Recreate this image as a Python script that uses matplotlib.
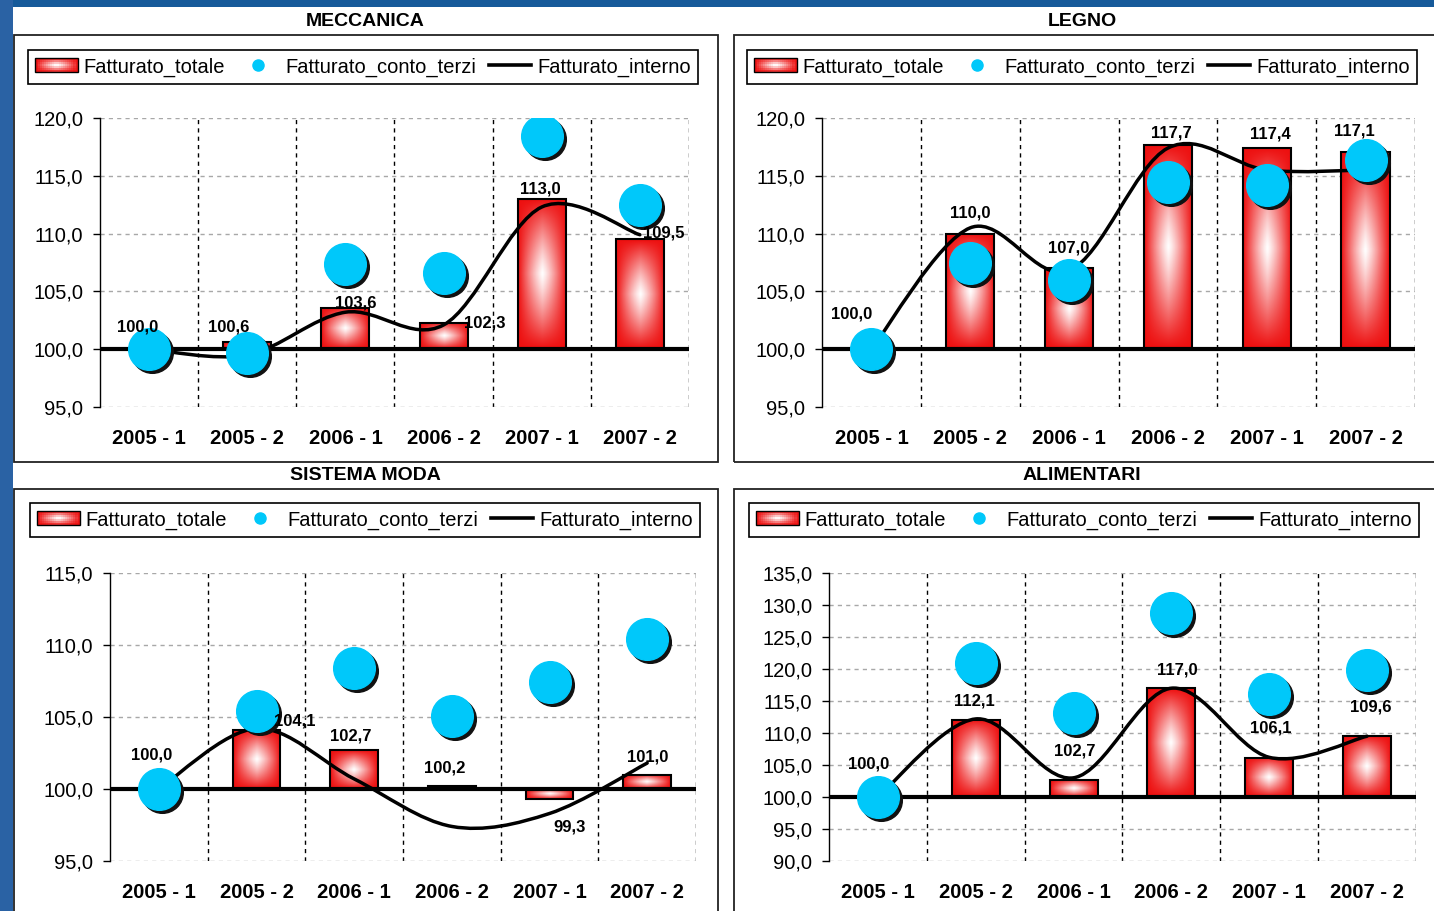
import matplotlib
matplotlib.use('Agg')
import matplotlib.pyplot as plt
import matplotlib.transforms as mtransforms
from matplotlib.patches import Rectangle, PathPatch
from matplotlib.path import Path
from matplotlib.lines import Line2D
from matplotlib.legend_handler import HandlerBase
import numpy as np

plt.rcParams['font.family'] = ['Liberation Sans', 'DejaVu Sans']

# --- data ---
periods = ['2005 - 1', '2005 - 2', '2006 - 1', '2006 - 2', '2007 - 1', '2007 - 2']
series_names = ['Fatturato_totale', 'Fatturato_conto_terzi', 'Fatturato_interno']

meccanica_totale = [100.0, 100.6, 103.6, 102.3, 113.0, 109.5]
meccanica_terzi = [100.0, 99.7, 107.4, 106.6, 118.4, 112.5]
meccanica_interno = [100.0, 99.5, 103.2, 102.1, 112.3, 109.9]

legno_totale = [100.0, 110.0, 107.0, 117.7, 117.4, 117.1]
legno_terzi = [100.0, 107.5, 106.0, 114.5, 114.2, 116.4]
legno_interno = [100.0, 110.5, 106.8, 117.4, 115.5, 115.5]

moda_totale = [100.0, 104.1, 102.7, 100.2, 99.3, 101.0]
moda_terzi = [100.0, 105.4, 108.4, 105.1, 107.4, 110.4]
moda_interno = [100.0, 104.2, 100.7, 97.4, 98.3, 101.8]

alimentari_totale = [100.0, 112.1, 102.7, 117.0, 106.1, 109.6]
alimentari_terzi = [100.0, 121.0, 113.1, 128.8, 116.1, 119.8]
alimentari_interno = [100.0, 112.2, 103.0, 117.0, 106.2, 109.5]

W, H = 1434, 911
RED = np.array([0.93, 0.06, 0.06])
CYAN = '#00c8fa'


def shade(u, v):
    # "from center" fill: white in the middle, red towards every edge
    return 1 - (1 - np.abs(u) ** 1.2) * (1 - np.abs(v) ** 1.2)


def mix(t):
    return tuple(np.array([1.0, 1.0, 1.0]) * (1 - t) + RED * t)


def gradient_img(n=80):
    u = np.linspace(-1, 1, n)
    U, V = np.meshgrid(u, u)
    t = shade(U, V)
    return np.ones((n, n, 3)) * (1 - t[..., None]) + RED * t[..., None]


class GradientBoxHandler(HandlerBase):
    def create_artists(self, legend, orig_handle, xdescent, ydescent,
                       width, height, fontsize, trans):
        arts = []
        nx, ny = 20, 7
        x0, y0 = -xdescent, -ydescent
        cw, ch = width / nx, height / ny
        for i in range(nx):
            for j in range(ny):
                u = (i + 0.5) / nx * 2 - 1
                v = (j + 0.5) / ny * 2 - 1
                arts.append(Rectangle((x0 + i * cw, y0 + j * ch), cw * 1.05, ch * 1.05,
                                      facecolor=mix(shade(u, v)), edgecolor='none',
                                      transform=trans))
        arts.append(Rectangle((x0, y0), width, height, facecolor='none',
                              edgecolor='black', lw=1, transform=trans))
        return arts


def smooth_path(xs, ys):
    # excel style smoothed line: bezier segments through the points
    pts = np.column_stack([xs, ys]).astype(float)
    n = len(pts)
    verts = [pts[0]]
    codes = [Path.MOVETO]
    for i in range(n - 1):
        p0 = pts[max(i - 1, 0)]
        p1 = pts[i]
        p2 = pts[i + 1]
        p3 = pts[min(i + 2, n - 1)]
        c1 = p1 + (p2 - p0) / 6
        c2 = p2 - (p3 - p1) / 6
        verts += [c1, c2, p2]
        codes += [Path.CURVE4] * 3
    return Path(verts, codes)


def px_box(l, t, r, b):
    return [l / W, 1 - b / H, (r - l) / W, (b - t) / H]


fig = plt.figure(figsize=(W / 100, H / 100), dpi=100)
fig.patch.set_facecolor('white')

# slide background strips and panel frames
fig.patches.append(Rectangle((0, 1 - 7 / H), 1, 7 / H, transform=fig.transFigure,
                             facecolor='#165a9a', edgecolor='none'))
fig.patches.append(Rectangle((0, 0), 13 / W, 1, transform=fig.transFigure,
                             facecolor='#2a62a4', edgecolor='none'))
for (l, t, r, b) in [(14, 35, 718, 462), (734, 35, 1445, 462),
                     (14, 489, 718, 925), (734, 489, 1445, 925)]:
    fig.patches.append(Rectangle((l / W, 1 - b / H), (r - l) / W, (b - t) / H,
                                 transform=fig.transFigure, facecolor='none',
                                 edgecolor='#222222', lw=1.3))

panels = [
    dict(title='MECCANICA', tot=meccanica_totale, ter=meccanica_terzi, inn=meccanica_interno,
         ylim=(95, 120), box=(100, 118, 689, 407), title_xy=(365, 21), leg_xy=(363, 67),
         ldx=[-11, -19, 10, 41, -1, 24], ldy=[22, 15, 5, 0, 10, 6]),
    dict(title='LEGNO', tot=legno_totale, ter=legno_terzi, inn=legno_interno,
         ylim=(95, 120), box=(822, 118, 1415, 407), title_xy=(1082, 21), leg_xy=(1082, 67),
         ldx=[-20, 0, 0, 3, 4, -11], ldy=[35, 21, 20, 12, 14, 21]),
    dict(title='SISTEMA MODA', tot=moda_totale, ter=moda_terzi, inn=moda_interno,
         ylim=(95, 115), box=(110, 573, 696, 861), title_xy=(365, 475), leg_xy=(365, 520),
         ldx=[-7, 38, -3, -7, 20, 1], ldy=[34, 9, 14, 18, -28, 18]),
    dict(title='ALIMENTARI', tot=alimentari_totale, ter=alimentari_terzi, inn=alimentari_interno,
         ylim=(90, 135), box=(829, 573, 1416, 861), title_xy=(1082, 475), leg_xy=(1084, 520),
         ldx=[-9, -1, 1, 6, 2, 4], ldy=[33, 19, 29, 18, 30, 29]),
]

grad = gradient_img()
x = np.arange(len(periods))

for p in panels:
    ax = fig.add_axes(px_box(*p['box']))
    ax.set_facecolor('none')
    tot = np.array(p['tot'])

    bars = ax.bar(x, tot - 100, bottom=100, width=0.49, facecolor='none',
                  edgecolor='black', lw=1.5, zorder=3)
    for b in bars:
        x0, y0, w, h = b.get_x(), b.get_y(), b.get_width(), b.get_height()
        if h == 0:
            continue
        im = ax.imshow(grad, extent=[x0, x0 + w, y0, y0 + h], aspect='auto',
                       interpolation='bilinear', zorder=2)
        im.set_clip_path(b)

    ax.axhline(100, color='black', lw=3, zorder=4)

    ax.add_patch(PathPatch(smooth_path(x, p['inn']), facecolor='none',
                           edgecolor='black', lw=2.5, zorder=5, capstyle='round'))

    shadow = ax.transData + mtransforms.ScaledTranslation(3 / 100, -3 / 100, fig.dpi_scale_trans)
    ax.plot(x, p['ter'], 'o', ms=30, color='#111111', transform=shadow, zorder=6)
    ax.plot(x, p['ter'], 'o', ms=30, color=CYAN, zorder=7)

    for xi, v, dx, dy in zip(x, tot, p['ldx'], p['ldy']):
        ax.annotate(f'{v:.1f}'.replace('.', ','), xy=(xi, v), xytext=(dx, dy),
                    textcoords='offset pixels', ha='center', va='center',
                    fontsize=12, fontweight='bold', zorder=10)

    ax.set_xlim(-0.5, len(periods) - 0.5)
    ax.set_ylim(*p['ylim'])
    ax.set_yticks(np.arange(p['ylim'][0], p['ylim'][1] + 0.1, 5))
    ax.set_yticklabels([f'{v:.1f}'.replace('.', ',') for v in ax.get_yticks()])
    ax.set_xticks(x)
    ax.set_xticklabels(periods, fontweight='bold')
    ax.set_xticks(np.arange(len(periods)) + 0.5, minor=True)
    ax.tick_params(axis='x', which='both', length=0, labelsize=14.5, pad=16)
    ax.tick_params(axis='y', direction='out', length=5, width=1, labelsize=14.5, pad=7)
    ax.set_axisbelow(True)
    ax.yaxis.grid(True, ls=(0, (3, 3)), color='#a8a8a8', lw=1)
    ax.xaxis.grid(True, which='minor', ls=(0, (3, 3)), color='black', lw=1)
    for s in ['top', 'right', 'bottom']:
        ax.spines[s].set_visible(False)
    ax.spines['left'].set_linewidth(1)

    proxy = Rectangle((0, 0), 1, 1)
    handles = [proxy,
               Line2D([], [], marker='o', ls='none', ms=8, color=CYAN),
               Line2D([], [], color='black', lw=2.6)]
    lx, ly = p['leg_xy']
    leg = ax.legend(handles, series_names, handler_map={proxy: GradientBoxHandler()},
                    ncol=3, loc='center', bbox_to_anchor=(lx / W, 1 - ly / H),
                    bbox_transform=fig.transFigure, frameon=True, fancybox=False,
                    edgecolor='black', framealpha=1, fontsize=14.5, handlelength=2.1,
                    handleheight=0.7, handletextpad=0.3, columnspacing=0.6,
                    borderpad=0.35, borderaxespad=0)
    leg.get_frame().set_linewidth(1.2)

    tx, ty = p['title_xy']
    fig.text(tx / W, 1 - ty / H, p['title'], ha='center', va='center',
             fontsize=14, fontweight='bold')

fig.savefig('out.png', dpi=100)
